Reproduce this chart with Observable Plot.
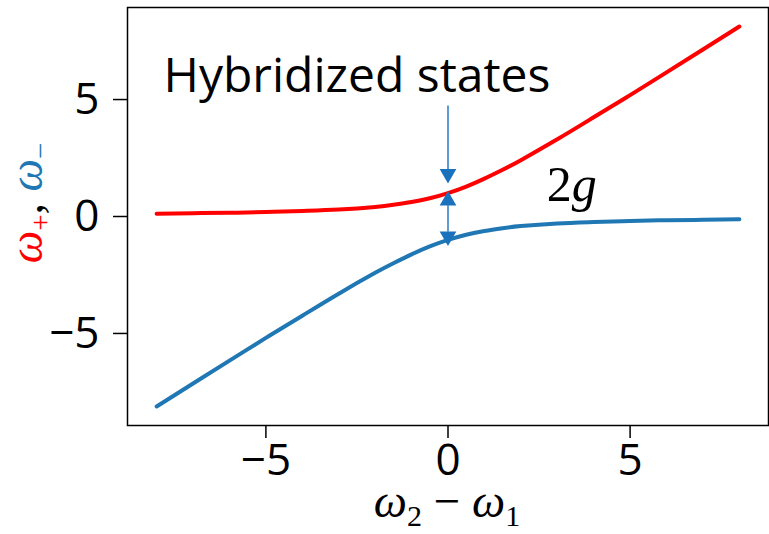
<!DOCTYPE html>
<html>
<head>
<meta charset="utf-8">
<script src="https://cdn.jsdelivr.net/npm/d3@7"></script>
<script src="https://cdn.jsdelivr.net/npm/@observablehq/plot@0.6"></script>
<style>
  html, body { margin: 0; padding: 0; background: #fff; }
  #chart svg { display: block; }
</style>
</head>
<body>
<div id="chart"></div>
<script>
// Detuning values (x) and the two branch frequencies
const detuning = [-8, -7, -6, -5, -4, -3, -2, -1.5, -1, -0.5, 0, 0.5, 1, 1.5, 2, 3, 4, 5, 6, 7, 8];
const omegaPlus = [0.12, 0.14, 0.16, 0.19, 0.24, 0.30, 0.41, 0.50, 0.62, 0.78, 1.00, 1.28, 1.62, 2.00, 2.41, 3.30, 4.24, 5.19, 6.16, 7.14, 8.12];
const omegaMinus = [-8.12, -7.14, -6.16, -5.19, -4.24, -3.30, -2.41, -2.00, -1.62, -1.28, -1.00, -0.78, -0.62, -0.50, -0.41, -0.30, -0.24, -0.19, -0.16, -0.14, -0.12];
const tickValues = [-5, 0, 5];

// Annotation values (data units)
const hybridArrow = [{x: 0, y1: 4.75, y2: 1.62}];
const gapArrow = [{x: 0, y1: 0.88, y2: -1.05}];
const annotationText = [{x: -2.5, y: 6.0, label: "Hybridized states"}];
const gapText = [{x: 3.4, y: 1.35}];

const upper = detuning.map((x, i) => ({x, y: omegaPlus[i]}));
const lower = detuning.map((x, i) => ({x, y: omegaMinus[i]}));

const fmt = d => d < 0 ? "\u2212" + Math.abs(d) : String(d);
const arrowColor = "#1a72bd";
const headR = 6.2;

const chart = Plot.plot({
  width: 769,
  height: 534,
  marginLeft: 127,
  marginRight: 1,
  marginTop: 7,
  marginBottom: 109,
  style: {fontFamily: "'Open Sans', 'Noto Sans', sans-serif", background: "white", color: "black"},
  x: {domain: [-8.8, 8.8]},
  y: {domain: [-8.935, 8.935]},
  marks: [
    Plot.axisX({ticks: tickValues, tickFormat: fmt, tickSize: 13, tickPadding: 5, fontSize: 44, label: null, strokeWidth: 1.5}),
    Plot.axisY({ticks: tickValues, tickFormat: fmt, tickSize: 14, tickPadding: 14, fontSize: 44, label: null, strokeWidth: 1.5}),
    Plot.line(upper, {x: "x", y: "y", stroke: "#ff0000", strokeWidth: 4, curve: "natural"}),
    Plot.line(lower, {x: "x", y: "y", stroke: "#1f77b4", strokeWidth: 4, curve: "natural"}),
    // downward annotation arrow
    Plot.link(hybridArrow, {x1: "x", x2: "x", y1: "y1", y2: d => d.y2 + 0.4, stroke: arrowColor, strokeWidth: 1.4}),
    Plot.dot(hybridArrow, {x: "x", y: d => d.y2 + 0.2, symbol: "triangle", r: headR, fill: arrowColor, stroke: null, rotate: 180}),
    // double arrow showing the 2g gap
    Plot.link(gapArrow, {x1: "x", x2: "x", y1: d => d.y1 - 0.4, y2: d => d.y2 + 0.4, stroke: arrowColor, strokeWidth: 1.4}),
    Plot.dot(gapArrow, {x: "x", y: d => d.y1 - 0.2, symbol: "triangle", r: headR, fill: arrowColor, stroke: null}),
    Plot.dot(gapArrow, {x: "x", y: d => d.y2 + 0.2, symbol: "triangle", r: headR, fill: arrowColor, stroke: null, rotate: 180}),
    Plot.text(annotationText, {x: "x", y: "y", text: "label", fontSize: 48, fill: "black"}),
    Plot.text(gapText, {x: "x", y: "y", text: () => "2g", fontSize: 50, fill: "black", className: "gaplabel"}),
    Plot.frame({stroke: "black", strokeWidth: 1.5})
  ]
});

document.getElementById("chart").appendChild(chart);

const svg = d3.select(chart);
const mathFont = "'Liberation Serif', 'DejaVu Serif', serif";

// Make "2g" math-style: upright 2, italic g
svg.selectAll(".gaplabel text").each(function () {
  const t = d3.select(this);
  t.text(null).attr("font-family", mathFont);
  t.append("tspan").text("2");
  t.append("tspan").attr("font-style", "italic").text("g");
});

// x label: ω2 − ω1
const xl = svg.append("text")
  .attr("x", 447).attr("y", 517)
  .attr("text-anchor", "middle")
  .attr("font-family", mathFont)
  .attr("font-size", 47)
  .attr("fill", "black");
xl.append("tspan").attr("font-style", "italic").text("\u03c9");
xl.append("tspan").attr("font-size", 30).attr("dy", 9).text("2");
xl.append("tspan").attr("dy", -9).text(" \u2212 ");
xl.append("tspan").attr("font-style", "italic").text("\u03c9");
xl.append("tspan").attr("font-size", 30).attr("dy", 9).text("1");

// y label: ω+, ω− (colored); subscripts lie toward the axis after rotation
const yl = svg.append("text")
  .attr("transform", "translate(42,203) rotate(-90)")
  .attr("text-anchor", "middle")
  .attr("font-family", mathFont)
  .attr("font-size", 46);
yl.append("tspan").attr("font-style", "italic").attr("fill", "#ff0000").text("\u03c9");
yl.append("tspan").attr("font-size", 29).attr("dy", 8).attr("fill", "#ff0000").text("+");
yl.append("tspan").attr("dy", -8).attr("fill", "black").text(", ");
yl.append("tspan").attr("font-style", "italic").attr("fill", "#1f77b4").text("\u03c9");
yl.append("tspan").attr("font-size", 29).attr("dy", 8).attr("fill", "#1f77b4").text("\u2212");
</script>
</body>
</html>
